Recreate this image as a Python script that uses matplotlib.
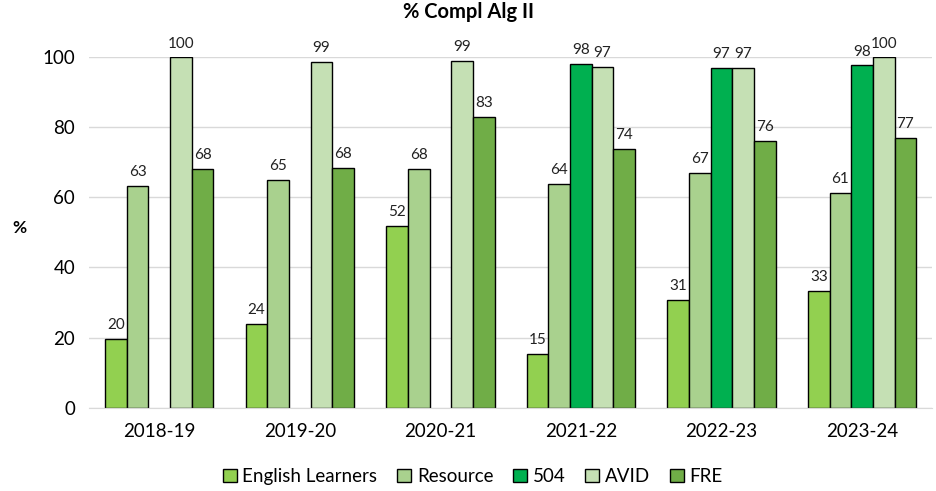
import numpy as np
import matplotlib
matplotlib.use("Agg")
import matplotlib.pyplot as plt

years = ["2018-19", "2019-20", "2020-21", "2021-22", "2022-23", "2023-24"]
english_learners = [19.6, 23.9, 51.9, 15.3, 30.6, 33.3]
resource = [63.4, 65.0, 68.2, 63.8, 67.1, 61.2]
sec504 = [np.nan, np.nan, np.nan, 98.2, 97.0, 97.7]
avid = [100.0, 98.8, 99.1, 97.3, 97.1, 100.0]
fre = [68.2, 68.3, 82.9, 73.8, 76.1, 76.9]

series_names = ["English Learners", "Resource", "504", "AVID", "FRE"]
colors = ["#92D050", "#A9D18E", "#00B050", "#C5E0B4", "#70AD47"]

plt.rcParams['font.family'] = ['Lato', 'DejaVu Sans']

fig = plt.figure(figsize=(9.37, 4.91), dpi=100)
ax = fig.add_axes([0.095, 0.17, 0.9, 0.713])

x = np.arange(len(years))
width = 0.154
all_series = [english_learners, resource, sec504, avid, fre]

for i, (vals, name, c) in enumerate(zip(all_series, series_names, colors)):
    offs = (i - 2) * width
    vals = np.array(vals, dtype=float)
    mask = ~np.isnan(vals)
    ax.bar(x[mask] + offs, vals[mask], width, color=c, edgecolor="black",
           linewidth=1.0, label=name, zorder=3)
    for xx, v in zip(x[mask] + offs, vals[mask]):
        ax.annotate(f"{v:.0f}", (xx, v), xytext=(0, 5), textcoords="offset points",
                    ha="center", va="bottom", fontsize=11, color="#222222",
                    annotation_clip=False)

ax.set_xlim(-0.5, len(years) - 0.5)
ax.set_ylim(0, 100)
ax.set_yticks([0, 20, 40, 60, 80, 100])
ax.set_xticks(x)
ax.set_xticklabels(years, fontsize=13.5)
ax.tick_params(axis="y", labelsize=13.5, length=0, pad=10)
ax.tick_params(axis="x", length=0, pad=11)
ax.grid(axis="y", color="#D9D9D9", linewidth=1.0, zorder=0)
for s in ["top", "right", "left"]:
    ax.spines[s].set_visible(False)
ax.spines["bottom"].set_color("#D9D9D9")
ax.spines["bottom"].set_zorder(4)

ax.set_ylabel("%", fontsize=12.5, fontweight="bold", rotation=0)
ax.yaxis.set_label_coords(-0.083, 0.49)
fig.suptitle("% Compl Alg II", fontsize=14.5, fontweight="bold", y=0.995)

ax.legend(loc="upper center", bbox_to_anchor=(0.455, -0.125), ncol=5, frameon=False,
          fontsize=13.5, handlelength=0.75, handleheight=0.75, handletextpad=0.3,
          columnspacing=1.05)

fig.savefig("out.png", dpi=100)
